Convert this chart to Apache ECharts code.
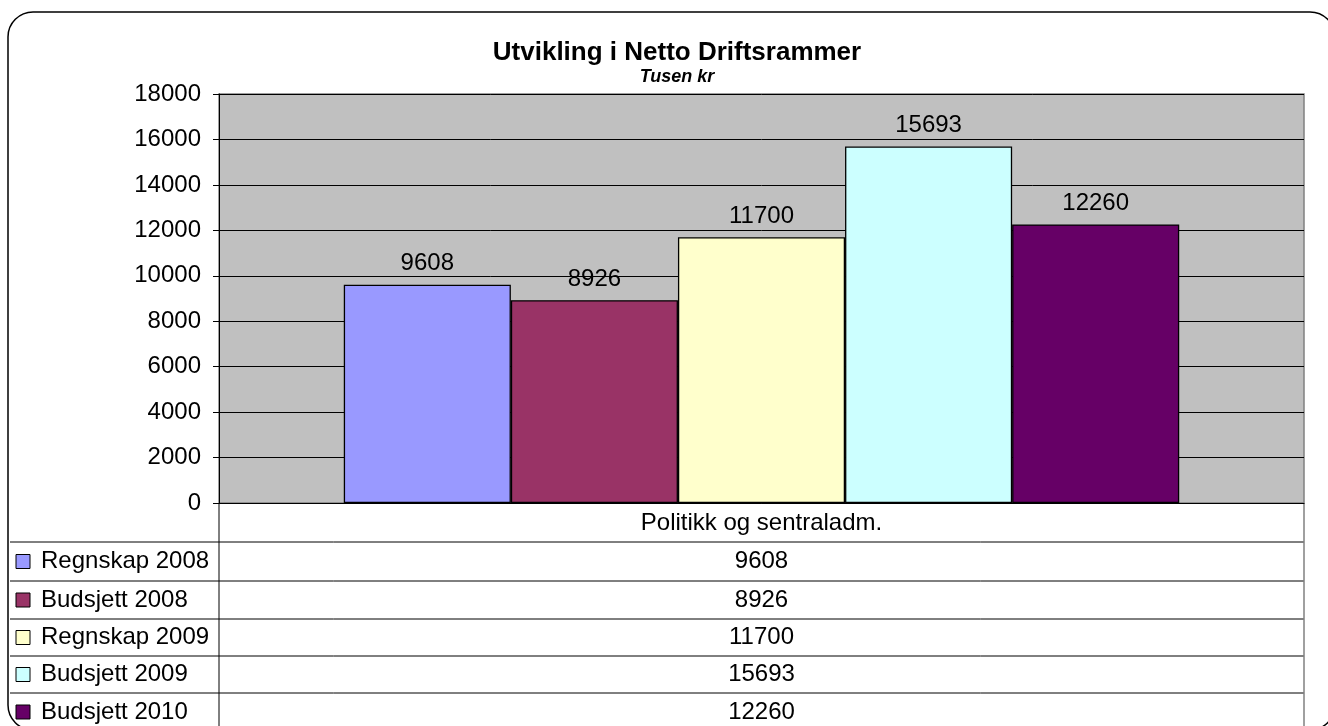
<!DOCTYPE html>
<html>
<head>
<meta charset="utf-8">
<script src="https://cdn.jsdelivr.net/npm/echarts@6/dist/echarts.min.js"></script>
<style>
html,body{margin:0;padding:0;background:#fff;}
#chart{width:1328px;height:726px;}
</style>
</head>
<body>
<div id="chart"></div>
<script>
var categories = ['Politikk og sentraladm.'];
var seriesNames = ['Regnskap 2008', 'Budsjett 2008', 'Regnskap 2009', 'Budsjett 2009', 'Budsjett 2010'];
var regnskap2008 = [9608];
var budsjett2008 = [8926];
var regnskap2009 = [11700];
var budsjett2009 = [15693];
var budsjett2010 = [12260];
var seriesValues = [regnskap2008, budsjett2008, regnskap2009, budsjett2009, budsjett2010];
var seriesColors = ['#9999FF', '#993366', '#FFFFCC', '#CCFFFF', '#660066'];
var yTicks = { min: 0, max: 18000, interval: 2000 };

var FONT = '"Liberation Sans", Arial, sans-serif';
var gridLeft = 219, gridTop = 94, gridWidth = 1085, gridHeight = 409;
var gridRight = gridLeft + gridWidth, gridBottom = gridTop + gridHeight;
var rowLines = [542, 581, 619, 656, 693];
var rowBottom = 731;

var chart = echarts.init(document.getElementById('chart'), null, { renderer: 'canvas' });

var series = seriesNames.map(function (name, i) {
  return {
    name: name,
    type: 'bar',
    data: seriesValues[i],
    barGap: '0%',
    barCategoryGap: '23%',
    itemStyle: { color: seriesColors[i], borderColor: '#000', borderWidth: 1.3 },
    label: { show: true, position: 'top', distance: 9, color: '#000', fontSize: 24, fontFamily: FONT },
    emphasis: { disabled: true },
    animation: false
  };
});

var graphics = [];
graphics.push({ type: 'rect', shape: { x: 8, y: 12, width: 1327, height: 718, r: 25 }, style: { fill: null, stroke: '#000', lineWidth: 1.5 }, silent: true, z: 100 });
rowLines.forEach(function (y) {
  graphics.push({ type: 'line', shape: { x1: 10, y1: y, x2: gridRight, y2: y }, style: { stroke: '#000', lineWidth: 1 }, silent: true });
});
graphics.push({ type: 'line', shape: { x1: gridLeft, y1: gridBottom, x2: gridLeft, y2: rowBottom }, style: { stroke: '#000', lineWidth: 1 }, silent: true });
graphics.push({ type: 'line', shape: { x1: gridRight, y1: gridBottom, x2: gridRight, y2: rowBottom }, style: { stroke: '#808080', lineWidth: 1.5 }, silent: true });
var allRows = rowLines.concat([rowBottom]);
seriesNames.forEach(function (name, i) {
  var y0 = allRows[i], y1 = allRows[i + 1];
  var cy = (y0 + y1) / 2;
  graphics.push({ type: 'rect', shape: { x: 16, y: cy - 7, width: 14, height: 14 }, style: { fill: seriesColors[i], stroke: '#000', lineWidth: 1 }, silent: true });
  graphics.push({ type: 'text', x: 41, y: cy, style: { text: name, font: '24px ' + FONT, fill: '#000', textVerticalAlign: 'middle', textAlign: 'left' }, silent: true });
  graphics.push({ type: 'text', x: (gridLeft + gridRight) / 2, y: cy, style: { text: String(seriesValues[i][0]), font: '24px ' + FONT, fill: '#000', textVerticalAlign: 'middle', textAlign: 'center' }, silent: true });
});

var option = {
  animation: false,
  backgroundColor: '#fff',
  title: {
    text: 'Utvikling i Netto Driftsrammer',
    subtext: 'Tusen kr',
    left: 672,
    top: 35,
    textAlign: 'center',
    itemGap: 2,
    textStyle: { fontFamily: FONT, fontSize: 26, fontWeight: 'bold', color: '#000' },
    subtextStyle: { fontFamily: FONT, fontSize: 18, fontWeight: 'bold', fontStyle: 'italic', color: '#000' }
  },
  grid: {
    left: gridLeft, top: gridTop, width: gridWidth, height: gridHeight,
    show: true, backgroundColor: '#C0C0C0', borderColor: '#808080', borderWidth: 1.5
  },
  xAxis: {
    type: 'category',
    data: categories,
    axisLine: { lineStyle: { color: '#000', width: 1 } },
    axisTick: { show: false },
    axisLabel: { color: '#000', fontSize: 24, fontFamily: FONT, margin: 8 }
  },
  yAxis: {
    type: 'value',
    min: yTicks.min, max: yTicks.max, interval: yTicks.interval,
    axisLine: { show: true, lineStyle: { color: '#000', width: 1 } },
    axisTick: { show: true, length: 6, lineStyle: { color: '#000' } },
    splitLine: { lineStyle: { color: '#000', width: 1 } },
    axisLabel: { color: '#000', fontSize: 24, fontFamily: FONT, margin: 18, formatter: function (v) { return String(v); } }
  },
  series: series,
  graphic: graphics
};
chart.setOption(option);
</script>
</body>
</html>
